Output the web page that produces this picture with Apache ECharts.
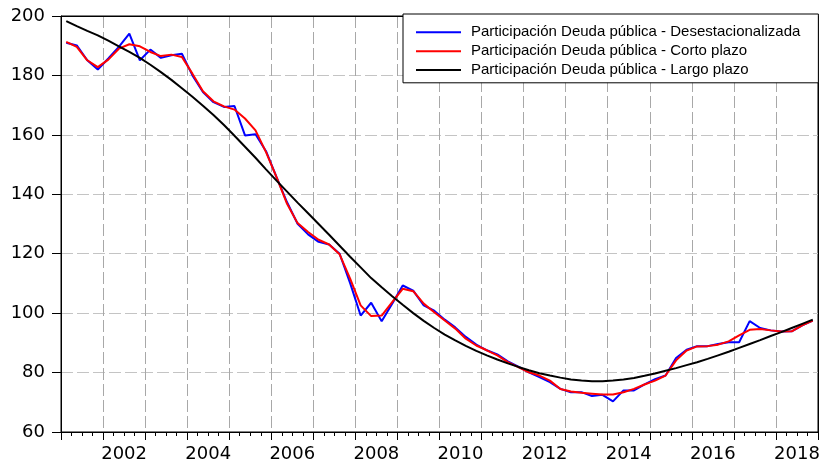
<!DOCTYPE html>
<html>
<head>
<meta charset="utf-8">
<script src="https://cdn.jsdelivr.net/npm/echarts@6/dist/echarts.min.js"></script>
<style>
html,body{margin:0;padding:0;background:#fff;}
#chart{width:823px;height:466px;}
</style>
</head>
<body>
<div id="chart"></div>
<script>
const years = [2001,2002,2003,2004,2005,2006,2007,2008,2009,2010,2011,2012,2013,2014,2015,2016,2017,2018];
const quarterNames = ['Q1','Q2','Q3','Q4'];
const yTicks = [60,80,100,120,140,160,180,200];

const seriesNames = [
  'Participación Deuda pública - Desestacionalizada',
  'Participación Deuda pública - Corto plazo',
  'Participación Deuda pública - Largo plazo'
];

const desestacionalizada = [
  191.0,190.1,185.1,182.0, 185.7,189.6,194.1,185.1, 188.7,185.9,186.8,187.3,
  180.0,174.4,171.0,169.4, 169.7,159.8,160.2,154.5, 145.8,137.3,130.1,126.5,
  124.0,123.1,120.0,110.1, 99.2,103.5,97.3,103.2, 109.3,107.6,102.6,100.8,
  97.8,95.2,92.0,89.4, 87.5,86.1,83.8,82.0, 80.1,78.5,76.8,74.5,
  73.4,73.4,72.1,72.5, 70.3,74.0,74.0,76.0, 77.8,79.0,84.9,87.7,
  88.9,88.9,89.6,90.2, 90.2,97.3,95.0,94.2, 93.8,93.9,95.9,97.5
];
const cortoPlazo = [
  191.3,189.6,185.1,182.8, 185.3,189.0,190.5,189.8, 187.9,186.5,187.0,186.2,
  180.6,174.7,171.3,169.6, 168.5,165.5,161.5,154.2, 145.8,136.8,130.3,127.3,
  124.7,123.1,119.8,111.6, 102.6,99.0,99.2,103.7, 108.2,107.4,103.2,100.3,
  97.5,94.8,91.4,89.1, 87.5,85.8,83.5,81.8, 80.1,79.0,77.3,74.5,
  73.6,73.2,72.9,72.6, 72.6,73.4,74.5,76.0, 77.3,79.0,84.1,87.4,
  88.8,88.9,89.4,90.5, 92.5,94.4,94.7,94.2, 93.8,93.9,95.9,97.5
];
const largoPlazo = [
  198.3,196.6,195.0,193.5, 191.7,189.8,187.9,185.9, 183.6,181.1,178.5,175.7,
  172.8,169.8,166.7,163.3, 159.7,156.0,152.3,148.4, 144.6,140.9,137.2,133.6,
  130.0,126.4,122.7,119.0, 115.4,111.8,108.7,105.7, 102.8,100.0,97.4,95.0,
  92.8,90.8,89.0,87.3, 85.8,84.4,83.1,81.9, 80.8,79.8,79.0,78.3,
  77.7,77.3,77.1,77.1, 77.3,77.7,78.2,78.9, 79.7,80.6,81.5,82.5,
  83.5,84.6,85.8,87.0, 88.3,89.6,90.9,92.3, 93.6,95.0,96.4,97.8
];

const quarters = [];
years.forEach(y => quarterNames.forEach(q => quarters.push(y + q)));

const chart = echarts.init(document.getElementById('chart'), null, {renderer:'canvas'});
const gridDash = [12, 4];
const option = {
  backgroundColor: '#ffffff',
  animation: false,
  grid: {
    left: 61, right: 5, top: 16, bottom: 34,
    show: true, borderColor: '#000', borderWidth: 1, backgroundColor: 'transparent'
  },
  legend: {
    orient: 'vertical',
    left: 403, top: 14,
    padding: [10.5, 18, 5, 13],
    icon: 'rect',
    itemWidth: 45, itemHeight: 2, itemGap: 3.4,
    backgroundColor: '#fff',
    borderColor: '#000', borderWidth: 1,
    textStyle: {fontFamily: 'Liberation Sans', fontSize: 15, lineHeight: 15.5, color: '#000', padding: [0,0,0,5]},
    data: seriesNames
  },
  xAxis: [
    {
      type: 'category', data: quarters, boundaryGap: true, position: 'bottom',
      axisLine: {show: true, onZero: false, lineStyle: {color: '#000', width: 1}},
      axisTick: {show: true, interval: 0, length: 4, lineStyle: {color: '#000'}},
      axisLabel: {show: false},
      splitLine: {show: true, interval: 3, lineStyle: {color: '#a8a8a8', type: gridDash, width: 1}}
    },
    {
      type: 'category', data: years, boundaryGap: true, position: 'bottom',
      axisLine: {show: false, onZero: false},
      axisTick: {show: true, interval: 0, length: 8, lineStyle: {color: '#000'}},
      axisLabel: {
        show: true, margin: 13,
        interval: (idx, val) => Number(val) % 2 === 0,
        fontFamily: 'DejaVu Sans', fontSize: 18, color: '#000'
      },
      splitLine: {show: false}
    },
    {
      type: 'category', data: years, boundaryGap: true, position: 'top',
      axisLine: {show: true, onZero: false, lineStyle: {color: '#000', width: 1}},
      axisTick: {show: false}, axisLabel: {show: false}, splitLine: {show: false}
    }
  ],
  yAxis: [
    {
      type: 'value', min: 60, max: 200, interval: 20,
      axisLine: {show: true, onZero: false, lineStyle: {color: '#000', width: 1}},
      axisTick: {show: true, length: 9, lineStyle: {color: '#000'}},
      axisLabel: {
        margin: 16, fontFamily: 'DejaVu Sans', fontSize: 18, color: '#000',
        formatter: v => yTicks.includes(v) ? String(v) : ''
      },
      splitLine: {show: true, showMinLine: false, showMaxLine: false,
        lineStyle: {color: '#c4c4c4', type: gridDash, width: 1}}
    },
    {
      type: 'value', min: 60, max: 200, interval: 20, position: 'right',
      axisLine: {show: true, onZero: false, lineStyle: {color: '#000', width: 1}},
      axisTick: {show: false}, axisLabel: {show: false}, splitLine: {show: false}
    }
  ],
  series: [
    {name: seriesNames[0], type: 'line', data: desestacionalizada, xAxisIndex: 0, showSymbol: false, symbol: 'none',
     lineStyle: {color: '#0000ff', width: 2}, itemStyle: {color: '#0000ff'}},
    {name: seriesNames[1], type: 'line', data: cortoPlazo, xAxisIndex: 0, showSymbol: false, symbol: 'none',
     lineStyle: {color: '#ff0000', width: 2}, itemStyle: {color: '#ff0000'}},
    {name: seriesNames[2], type: 'line', data: largoPlazo, xAxisIndex: 0, showSymbol: false, symbol: 'none',
     lineStyle: {color: '#000000', width: 2}, itemStyle: {color: '#000000'}}
  ]
};
chart.setOption(option);
</script>
</body>
</html>
